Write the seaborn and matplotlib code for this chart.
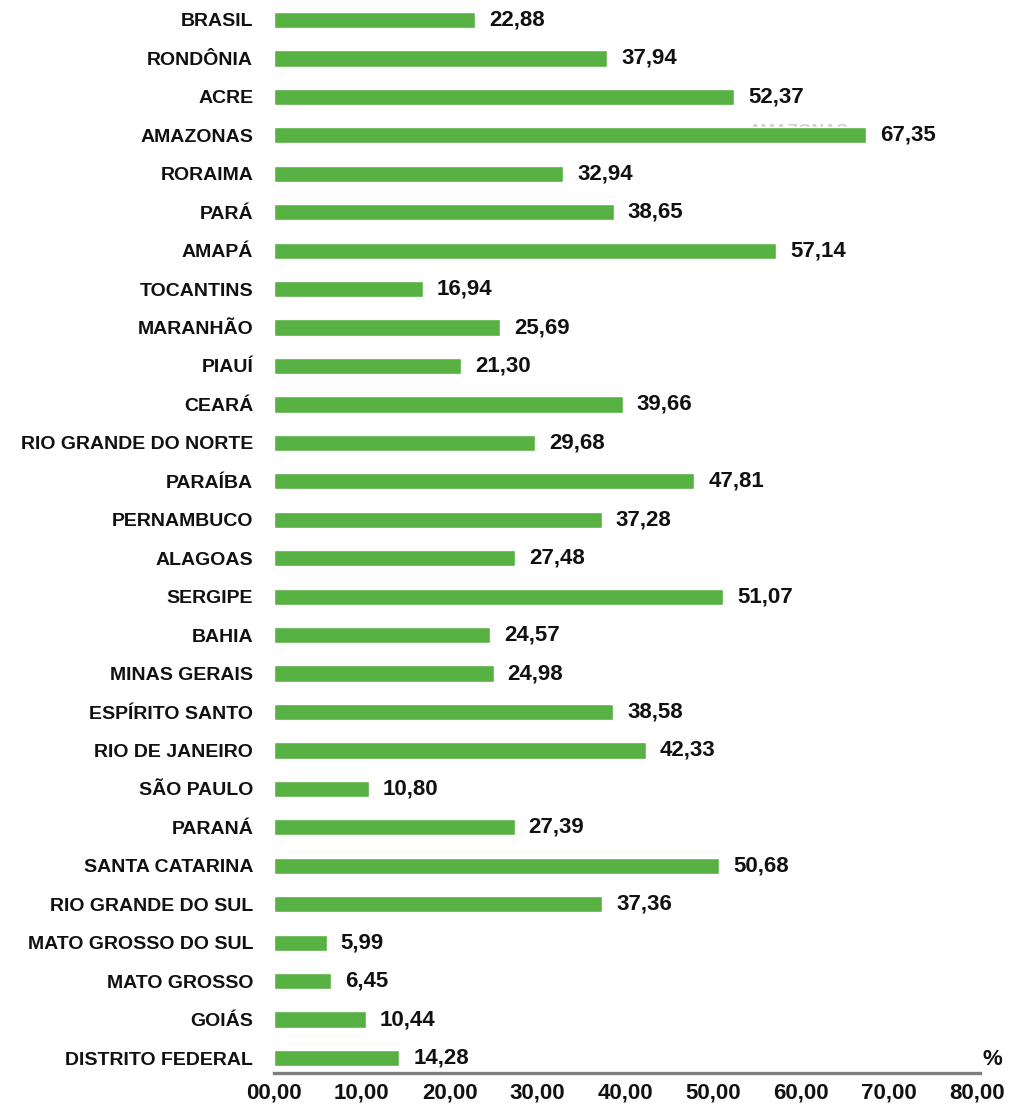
import matplotlib
matplotlib.use("Agg")
import pandas as pd
import seaborn as sns
import matplotlib.pyplot as plt

estados = ['BRASIL', 'RONDÔNIA', 'ACRE', 'AMAZONAS', 'RORAIMA', 'PARÁ', 'AMAPÁ',
           'TOCANTINS', 'MARANHÃO', 'PIAUÍ', 'CEARÁ', 'RIO GRANDE DO NORTE',
           'PARAÍBA', 'PERNAMBUCO', 'ALAGOAS', 'SERGIPE', 'BAHIA', 'MINAS GERAIS',
           'ESPÍRITO SANTO', 'RIO DE JANEIRO', 'SÃO PAULO', 'PARANÁ',
           'SANTA CATARINA', 'RIO GRANDE DO SUL', 'MATO GROSSO DO SUL',
           'MATO GROSSO', 'GOIÁS', 'DISTRITO FEDERAL']
valores = [22.88, 37.94, 52.37, 67.35, 32.94, 38.65, 57.14, 16.94, 25.69, 21.30,
           39.66, 29.68, 47.81, 37.28, 27.48, 51.07, 24.57, 24.98, 38.58, 42.33,
           10.80, 27.39, 50.68, 37.36, 5.99, 6.45, 10.44, 14.28]
ticks_x = [0, 10, 20, 30, 40, 50, 60, 70, 80]

df = pd.DataFrame({'estado': estados, 'valor': valores})

sns.set_style("white")
plt.rcParams['font.family'] = ['Liberation Sans', 'DejaVu Sans']
plt.rcParams['font.weight'] = 'bold'

fig = plt.figure(figsize=(10.09, 11.06), dpi=100)
ax = fig.add_axes([274 / 1009, 1 - 1073 / 1106, 703 / 1009, 1073 / 1106])

sns.barplot(data=df, x='valor', y='estado', orient='h', color='#58b143',
            width=0.42, saturation=1, ax=ax, zorder=2)

# faint ghost text partly hidden behind the Amazonas bar
ax.text(54.0, 3 - 0.1, 'AMAZONAS', fontsize=12.5, color='#d0d0d0',
        va='center', ha='left', zorder=1)

for i, v in enumerate(valores):
    ax.text(v + 1.6, i, f'{v:.2f}'.replace('.', ','), va='center', ha='left',
            fontsize=16, fontweight='bold', color='#111111')

ax.set_xlim(0, 80)
ax.set_ylim(27.39, -0.52)
ax.set_xticks(ticks_x)
ax.set_xticklabels([f'{t:02d},00' for t in ticks_x], fontsize=16,
                   fontweight='bold', color='#111111')
ax.tick_params(axis='x', length=0, pad=7)
ax.tick_params(axis='y', length=0, pad=15, labelsize=14, labelcolor='#111111')
for lbl in ax.get_yticklabels():
    lbl.set_fontweight('bold')

ax.set_xlabel('')
ax.set_ylabel('')
for s in ['top', 'right', 'left']:
    ax.spines[s].set_visible(False)
ax.spines['bottom'].set_color('#7f7f7f')
ax.spines['bottom'].set_linewidth(2.4)
ax.spines['bottom'].set_bounds(0, 80.3)

ax.text(81.8, 27.05, '%', fontsize=16, fontweight='bold', color='#111111',
        ha='center', va='center')

fig.savefig('out.png', dpi=100)
